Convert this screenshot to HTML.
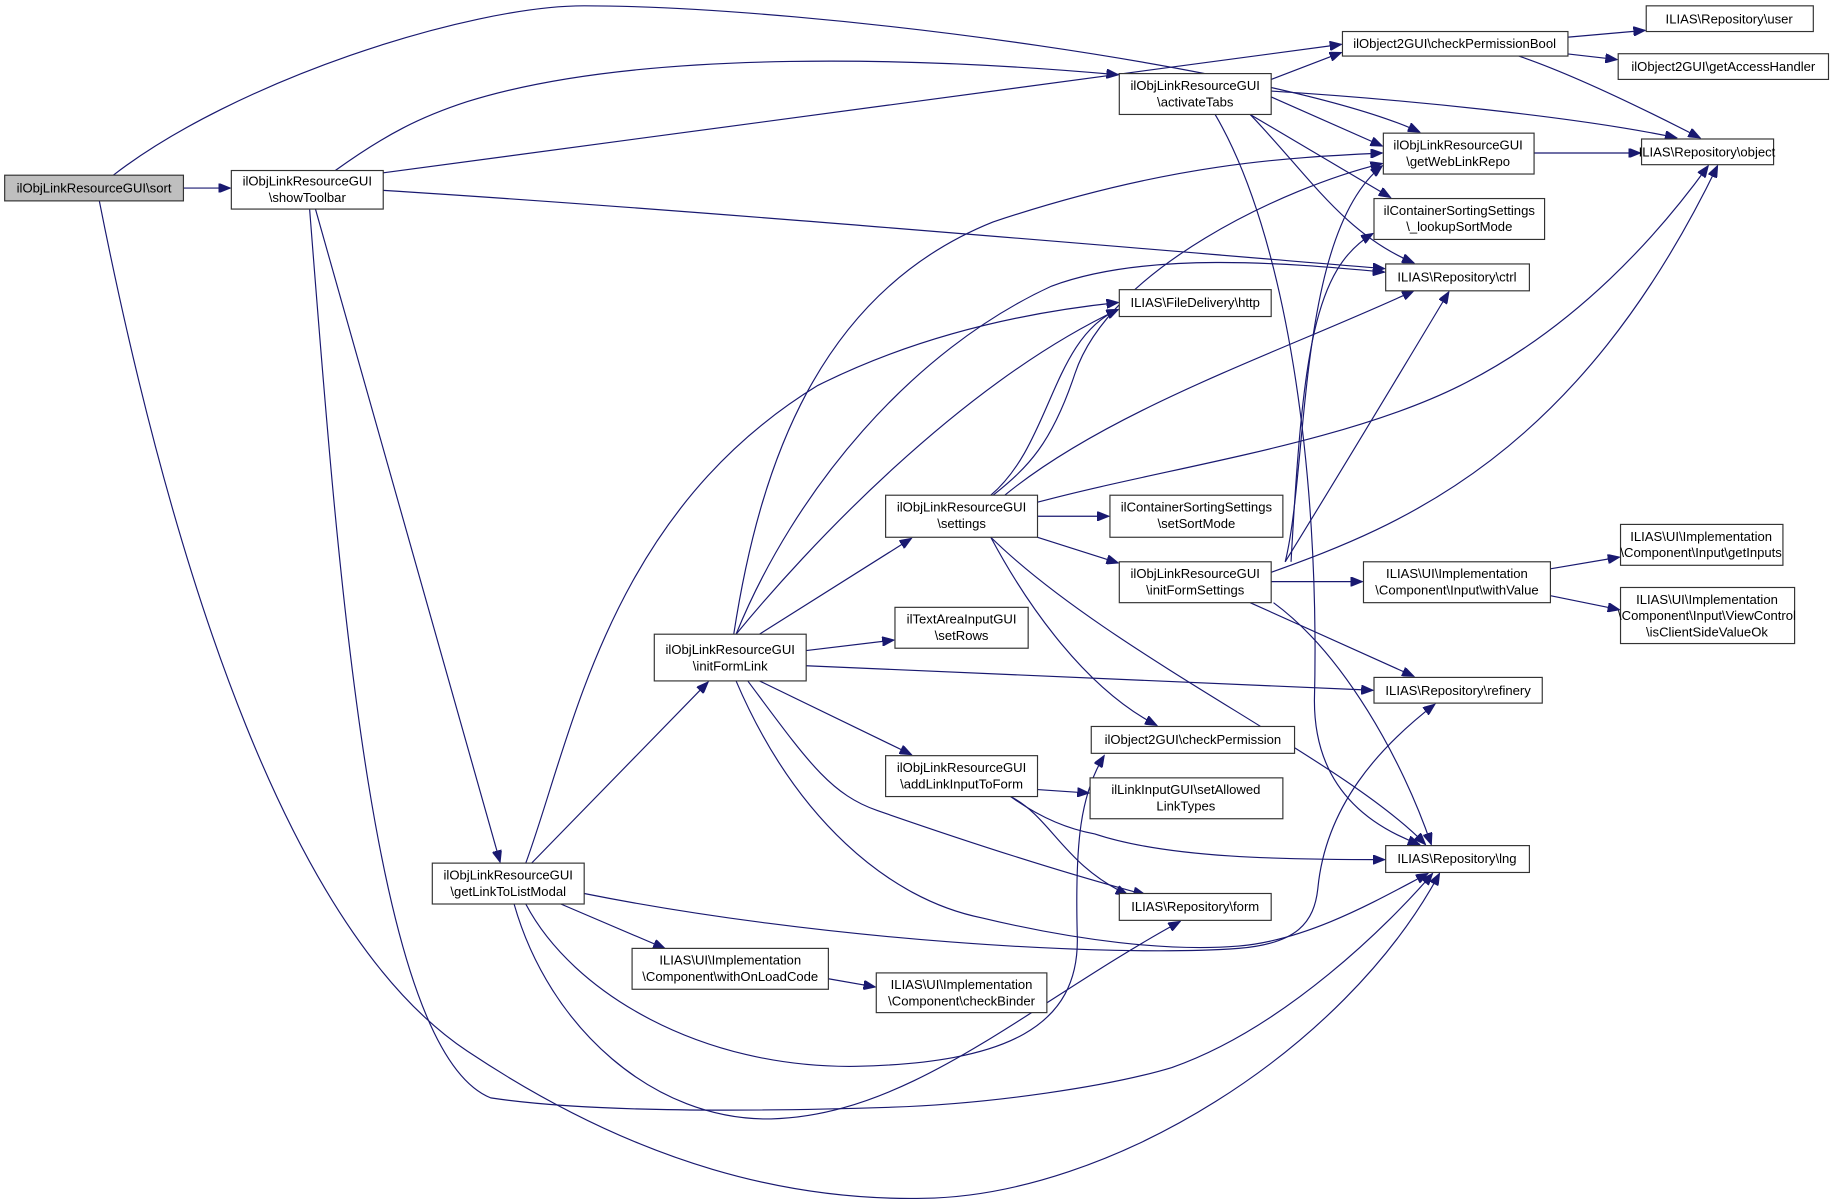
<!DOCTYPE html>
<html><head><meta charset="utf-8"><style>
html,body{margin:0;padding:0;background:#fff;}
svg{display:block;}
text{font-family:"Liberation Sans",sans-serif;font-size:11.2px;fill:#000;}
.n{fill:#fff;stroke:#333;stroke-width:1;}
.e{fill:none;stroke:#191970;stroke-width:1;marker-end:url(#a);}
</style></head><body>
<svg width="1832" height="1203" viewBox="0 0 1568 1030" preserveAspectRatio="none">
<defs><marker id="a" markerUnits="userSpaceOnUse" markerWidth="11" markerHeight="8" refX="10" refY="4" orient="auto"><path d="M0,0 L10,4 L0,8 z" fill="#191970" stroke="#191970"/></marker></defs>
<g>
<path class="e" d="M157,161 L197,161"/>
<path class="e" d="M97,150 C200,70 400,5 500,5 C700,5 1100,60 1215,113"/>
<path class="e" d="M85,172 C150,500 250,800 400,900 C550,1000 680,1028 790,1026 C950,1024 1150,900 1232,748"/>
<path class="e" d="M265,179 C290,500 320,900 420,940 C520,955 700,950 763,948 C850,945 950,930 1003,914 C1100,880 1190,790 1226,748"/>
<path class="e" d="M270,179 L428,738"/>
<path class="e" d="M328,148 L1148,38"/>
<path class="e" d="M287,146 C330,115 360,100 400,87 C550,40 800,50 957,64"/>
<path class="e" d="M328,163 C600,180 1000,215 1185,230"/>
<path class="e" d="M455,739 L606,584"/>
<path class="e" d="M450,739 C490,630 520,440 700,330 C800,280 900,265 957,259"/>
<path class="e" d="M480,774 L569,812"/>
<path class="e" d="M440,774 C470,880 560,960 660,958 C780,955 880,860 1010,789"/>
<path class="e" d="M450,774 C490,850 600,915 733,913 C860,910 925,880 922,800 C920,720 925,680 945,647"/>
<path class="e" d="M500,765 C700,805 950,820 1060,812 C1110,808 1125,790 1128,760 C1135,690 1180,640 1228,603"/>
<path class="e" d="M709,838 L749,845"/>
<path class="e" d="M628,543 C650,400 700,250 850,190 C1000,140 1100,135 1183,131"/>
<path class="e" d="M630,543 C680,420 780,300 900,245 C980,215 1100,225 1185,233"/>
<path class="e" d="M630,543 C690,470 820,330 957,265"/>
<path class="e" d="M650,543 L780,461"/>
<path class="e" d="M690,557 L765,548"/>
<path class="e" d="M690,570 L1175,591"/>
<path class="e" d="M650,583 L780,646"/>
<path class="e" d="M640,583 C690,650 710,680 751,694 C840,725 920,750 980,766"/>
<path class="e" d="M630,583 C680,700 760,770 841,786 C920,805 1000,815 1060,810 C1120,805 1180,770 1222,748"/>
<path class="e" d="M848,424 C900,380 900,290 957,265"/>
<path class="e" d="M850,424 C880,400 900,380 920,320 C950,230 1100,160 1183,140"/>
<path class="e" d="M860,424 C950,350 1100,300 1210,249"/>
<path class="e" d="M888,430 C1000,400 1150,380 1250,330 C1350,280 1420,200 1462,142"/>
<path class="e" d="M888,442 L949,442"/>
<path class="e" d="M888,460 L957,482"/>
<path class="e" d="M848,460 C880,520 930,590 990,621"/>
<path class="e" d="M848,460 C950,560 1150,650 1220,723"/>
<path class="e" d="M1088,68 L1148,45"/>
<path class="e" d="M1088,83 L1183,125"/>
<path class="e" d="M1088,78 C1200,85 1350,100 1435,118"/>
<path class="e" d="M1070,98 L1190,169"/>
<path class="e" d="M1070,98 C1120,150 1150,200 1210,225"/>
<path class="e" d="M1040,98 C1100,200 1130,400 1125,600 C1125,680 1180,710 1215,723"/>
<path class="e" d="M1340,32 L1408,26"/>
<path class="e" d="M1340,46 L1384,51"/>
<path class="e" d="M1300,48 C1350,65 1420,100 1455,118"/>
<path class="e" d="M1313,131 L1404,131"/>
<path class="e" d="M1100,481 C1120,400 1110,200 1183,142"/>
<path class="e" d="M1105,481 C1115,300 1125,230 1175,200"/>
<path class="e" d="M1100,481 C1150,400 1210,300 1240,250"/>
<path class="e" d="M1088,490 C1200,450 1350,390 1470,142"/>
<path class="e" d="M1088,498 L1166,498"/>
<path class="e" d="M1070,516 L1210,579"/>
<path class="e" d="M1090,516 C1150,560 1200,650 1225,723"/>
<path class="e" d="M1327,487 L1386,477"/>
<path class="e" d="M1327,510 L1386,522"/>
<path class="e" d="M888,676 L932,679"/>
<path class="e" d="M865,682 C890,700 915,710 937,714 C1000,735 1100,736 1185,736"/>
<path class="e" d="M865,682 C900,700 910,740 965,766"/>
</g>
<g>
<rect x="4" y="150" width="153" height="22" fill="#bfbfbf" stroke="#333"/><text x="80.5" y="165" text-anchor="middle">ilObjLinkResourceGUI\sort</text>
<rect class="n" x="198" y="146" width="130" height="33"/><text x="263" y="159" text-anchor="middle">ilObjLinkResourceGUI</text><text x="263" y="173" text-anchor="middle">\showToolbar</text>
<rect class="n" x="958" y="63" width="130" height="35"/><text x="1023" y="77" text-anchor="middle">ilObjLinkResourceGUI</text><text x="1023" y="91" text-anchor="middle">\activateTabs</text>
<rect class="n" x="1149" y="27" width="193" height="21"/><text x="1245" y="41" text-anchor="middle">ilObject2GUI\checkPermissionBool</text>
<rect class="n" x="1409" y="5" width="143" height="22"/><text x="1480" y="20" text-anchor="middle">ILIAS\Repository\user</text>
<rect class="n" x="1385" y="46" width="180" height="22"/><text x="1475" y="61" text-anchor="middle">ilObject2GUI\getAccessHandler</text>
<rect class="n" x="1184" y="114" width="129" height="35"/><text x="1248" y="128" text-anchor="middle">ilObjLinkResourceGUI</text><text x="1248" y="142" text-anchor="middle">\getWebLinkRepo</text>
<rect class="n" x="1405" y="119" width="113" height="22"/><text x="1461" y="134" text-anchor="middle">ILIAS\Repository\object</text>
<rect class="n" x="1176" y="170" width="146" height="35"/><text x="1249" y="184" text-anchor="middle">ilContainerSortingSettings</text><text x="1249" y="198" text-anchor="middle">\_lookupSortMode</text>
<rect class="n" x="1186" y="226" width="123" height="23"/><text x="1247" y="241" text-anchor="middle">ILIAS\Repository\ctrl</text>
<rect class="n" x="958" y="248" width="130" height="23"/><text x="1023" y="263" text-anchor="middle">ILIAS\FileDelivery\http</text>
<rect class="n" x="758" y="424" width="130" height="36"/><text x="823" y="438" text-anchor="middle">ilObjLinkResourceGUI</text><text x="823" y="452" text-anchor="middle">\settings</text>
<rect class="n" x="950" y="424" width="148" height="36"/><text x="1024" y="438" text-anchor="middle">ilContainerSortingSettings</text><text x="1024" y="452" text-anchor="middle">\setSortMode</text>
<rect class="n" x="958" y="481" width="130" height="35"/><text x="1023" y="495" text-anchor="middle">ilObjLinkResourceGUI</text><text x="1023" y="509" text-anchor="middle">\initFormSettings</text>
<rect class="n" x="1167" y="481" width="160" height="35"/><text x="1247" y="495" text-anchor="middle">ILIAS\UI\Implementation</text><text x="1247" y="509" text-anchor="middle">\Component\Input\withValue</text>
<rect class="n" x="1387" y="449" width="139" height="35"/><text x="1456" y="463" text-anchor="middle">ILIAS\UI\Implementation</text><text x="1456" y="477" text-anchor="middle">\Component\Input\getInputs</text>
<rect class="n" x="1387" y="503" width="149" height="48"/><text x="1461" y="517" text-anchor="middle">ILIAS\UI\Implementation</text><text x="1461" y="531" text-anchor="middle">\Component\Input\ViewControl</text><text x="1461" y="545" text-anchor="middle">\isClientSideValueOk</text>
<rect class="n" x="766" y="520" width="114" height="35"/><text x="823" y="534" text-anchor="middle">ilTextAreaInputGUI</text><text x="823" y="548" text-anchor="middle">\setRows</text>
<rect class="n" x="560" y="543" width="130" height="40"/><text x="625" y="560" text-anchor="middle">ilObjLinkResourceGUI</text><text x="625" y="574" text-anchor="middle">\initFormLink</text>
<rect class="n" x="1176" y="580" width="144" height="22"/><text x="1248" y="595" text-anchor="middle">ILIAS\Repository\refinery</text>
<rect class="n" x="934" y="622" width="174" height="23"/><text x="1021" y="637" text-anchor="middle">ilObject2GUI\checkPermission</text>
<rect class="n" x="758" y="647" width="130" height="35"/><text x="823" y="661" text-anchor="middle">ilObjLinkResourceGUI</text><text x="823" y="675" text-anchor="middle">\addLinkInputToForm</text>
<rect class="n" x="933" y="666" width="165" height="35"/><text x="1015" y="680" text-anchor="middle">ilLinkInputGUI\setAllowed</text><text x="1015" y="694" text-anchor="middle">LinkTypes</text>
<rect class="n" x="1186" y="724" width="123" height="23"/><text x="1247" y="739" text-anchor="middle">ILIAS\Repository\lng</text>
<rect class="n" x="958" y="765" width="130" height="23"/><text x="1023" y="780" text-anchor="middle">ILIAS\Repository\form</text>
<rect class="n" x="370" y="739" width="130" height="35"/><text x="435" y="753" text-anchor="middle">ilObjLinkResourceGUI</text><text x="435" y="767" text-anchor="middle">\getLinkToListModal</text>
<rect class="n" x="541" y="812" width="168" height="35"/><text x="625" y="826" text-anchor="middle">ILIAS\UI\Implementation</text><text x="625" y="840" text-anchor="middle">\Component\withOnLoadCode</text>
<rect class="n" x="750" y="833" width="146" height="34"/><text x="823" y="847" text-anchor="middle">ILIAS\UI\Implementation</text><text x="823" y="861" text-anchor="middle">\Component\checkBinder</text>
</g>
</svg>
</body></html>
